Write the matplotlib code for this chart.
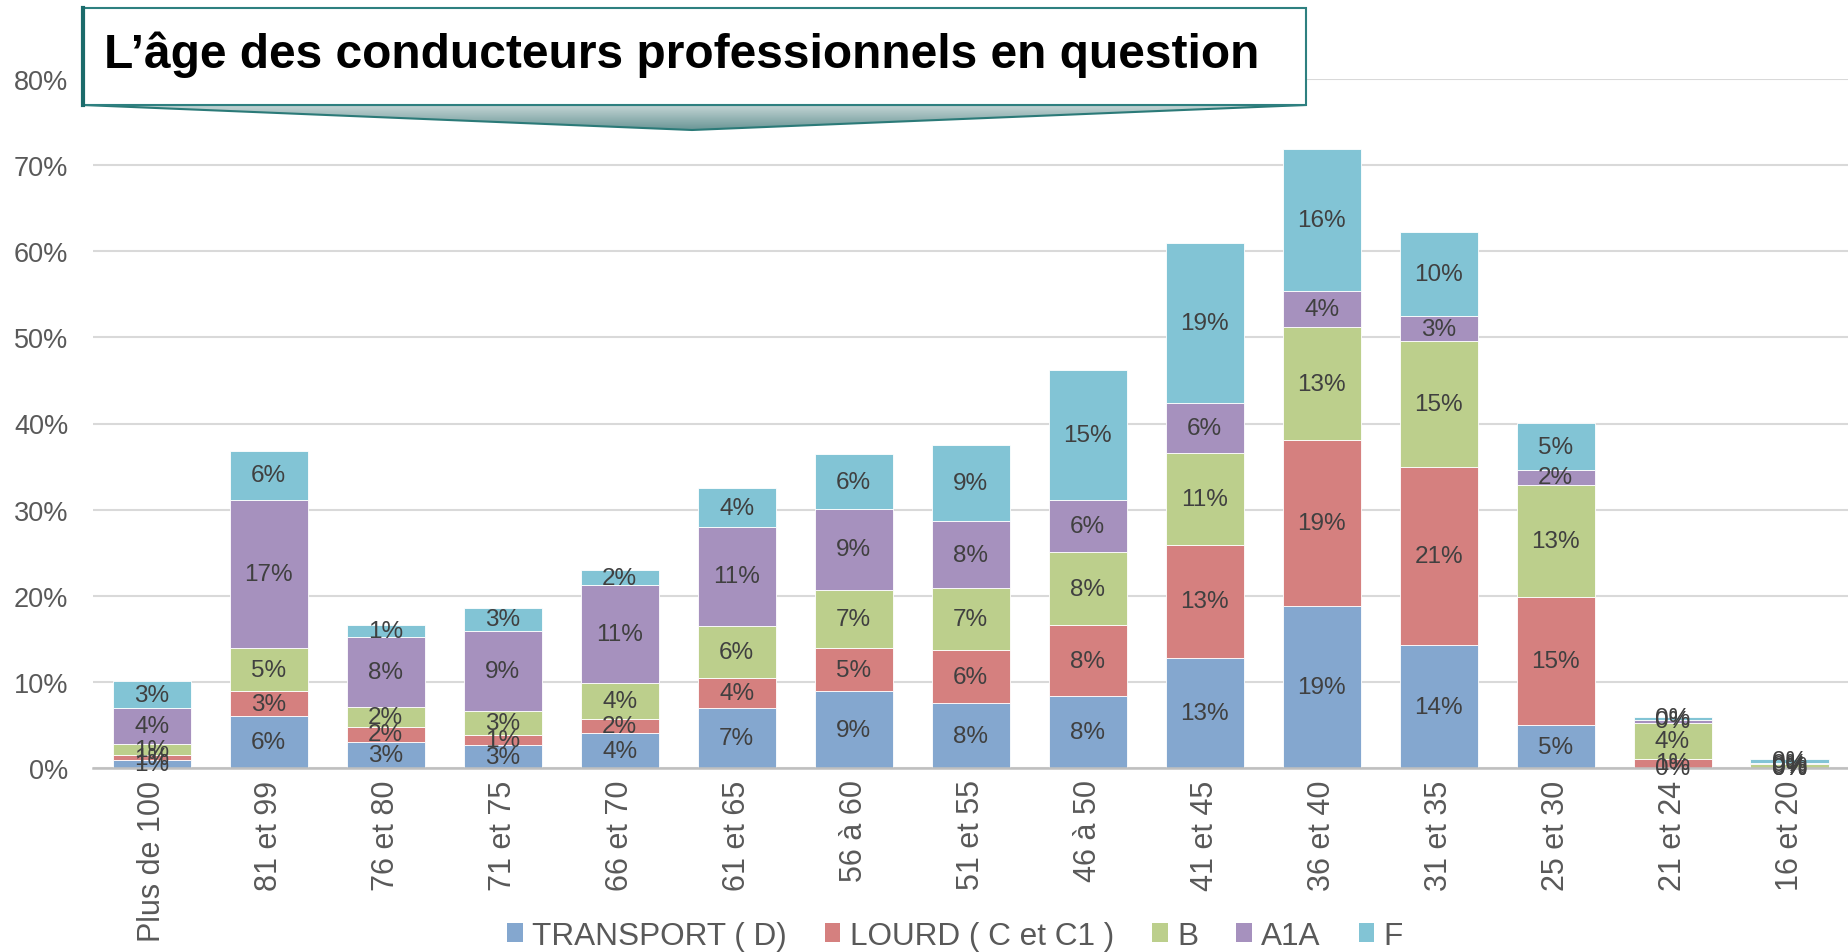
import numpy as np
import matplotlib
matplotlib.use("Agg")
import matplotlib.pyplot as plt
from matplotlib.patches import Polygon, Rectangle, Patch

plt.rcParams['font.family'] = ['Liberation Sans', 'DejaVu Sans']

# tranches d'age (ordre du graphique)
categories = ["Plus de 100", "81 et 99", "76 et 80", "71 et 75", "66 et 70",
              "61 et 65", "56 à 60", "51 et 55", "46 à 50", "41 et 45",
              "36 et 40", "31 et 35", "25 et 30", "21 et 24", "16 et 20"]

# valeurs en %
transport = [0.95, 6.05, 3.1, 2.7, 4.05, 6.96, 8.98, 7.55, 8.4, 12.83, 18.8, 14.25, 4.99, 0.05, 0.0]
lourd = [0.54, 2.87, 1.68, 1.19, 1.68, 3.54, 4.94, 6.15, 8.2, 13.07, 19.27, 20.74, 14.9, 1.05, 0.05]
permis_b = [1.35, 5.07, 2.29, 2.74, 4.21, 6.06, 6.8, 7.23, 8.45, 10.65, 13.11, 14.58, 12.97, 4.2, 0.4]
a1a = [4.15, 17.1, 8.2, 9.32, 11.29, 11.43, 9.4, 7.73, 6.05, 5.83, 4.22, 2.89, 1.77, 0.27, 0.2]
permis_f = [3.08, 5.77, 1.39, 2.66, 1.8, 4.47, 6.3, 8.9, 15.05, 18.56, 16.48, 9.71, 5.39, 0.42, 0.4]

series_names = ["TRANSPORT ( D)", "LOURD ( C et C1 )", "B", "A1A", "F"]
series_colors = ["#84A7CF", "#D5807F", "#BCCF8C", "#A691BE", "#82C4D5"]
yticks = [0, 10, 20, 30, 40, 50, 60, 70, 80]

W, H = 1849, 953
fig = plt.figure(figsize=(W / 100, H / 100), dpi=100)
ax = fig.add_axes([93.3 / W, (H - 769.3) / H, (1848 - 93.3) / W, 689.6 / H])

x = np.arange(len(categories))
bottom = np.zeros(len(categories))
for vals, name, col in zip([transport, lourd, permis_b, a1a, permis_f], series_names, series_colors):
    vals = np.array(vals)
    bars = ax.bar(x, vals, 0.667, bottom=bottom, color=col, edgecolor="#FFFFFF",
                  linewidth=0.6, label=name, zorder=2)
    ax.bar_label(bars, labels=[f"{v:.0f}%" for v in vals], label_type="center",
                 fontsize=17.5, color="#404040", zorder=4)
    bottom += vals

ax.set_xlim(-0.5, len(categories) - 0.5)
ax.set_ylim(0, 80)
ax.set_yticks(yticks)
ax.set_yticklabels([f"{t}%" for t in yticks])
ax.set_xticks(x)
ax.set_xticklabels(categories, rotation=90)
ax.tick_params(axis="y", length=0, pad=18, labelsize=19.5, labelcolor="#595959")
ax.tick_params(axis="x", length=0, pad=8, labelsize=22, labelcolor="#595959")
ax.grid(axis="y", color="#D9D9D9", linewidth=1.5, zorder=0)
ax.set_axisbelow(True)
for s in ["top", "right", "left"]:
    ax.spines[s].set_visible(False)
ax.spines["bottom"].set_color("#BFBFBF")
ax.spines["bottom"].set_linewidth(1.8)

handles = [Patch(facecolor=c, edgecolor="none") for c in series_colors]
fig.legend(handles, series_names, loc="center", bbox_to_anchor=(955 / W, 1 - 937 / H),
           ncol=5, frameon=False, fontsize=22.7, labelcolor="#595959",
           handlelength=0.5, handleheight=0.55, handletextpad=0.3, columnspacing=1.2)

# bandeau du titre
ov = fig.add_axes([0, 0, 1, 1], zorder=10)
ov.set_xlim(0, W)
ov.set_ylim(H, 0)
ov.axis("off")
ov.patch.set_alpha(0)

pointer = Polygon([(83, 106), (1306, 106), (692, 131)], closed=True,
                  facecolor="none", edgecolor="#2B7A78", linewidth=1.5, zorder=1)
ov.add_patch(pointer)
grad = np.linspace(0, 1, 64).reshape(-1, 1)
cmap = matplotlib.colors.LinearSegmentedColormap.from_list("g", ["#C4D5D5", "#6A9696"])
img = ov.imshow(grad, cmap=cmap, extent=(83, 1306, 131, 106), aspect="auto", zorder=0.5)
img.set_clip_path(pointer)
ov.set_xlim(0, W)
ov.set_ylim(H, 0)

ov.add_patch(Rectangle((83, 9), 1306 - 83, 97, facecolor="white", edgecolor="#2E8080",
                       linewidth=1.5, zorder=2))
ov.plot([83, 83], [9, 106], color="#1B6B6B", linewidth=3, zorder=3)
ov.text(104, 55, "L’âge des conducteurs professionnels en question", fontsize=34.5,
        fontweight="bold", color="black", va="center", ha="left", zorder=4)

fig.savefig("out.png", dpi=100)
